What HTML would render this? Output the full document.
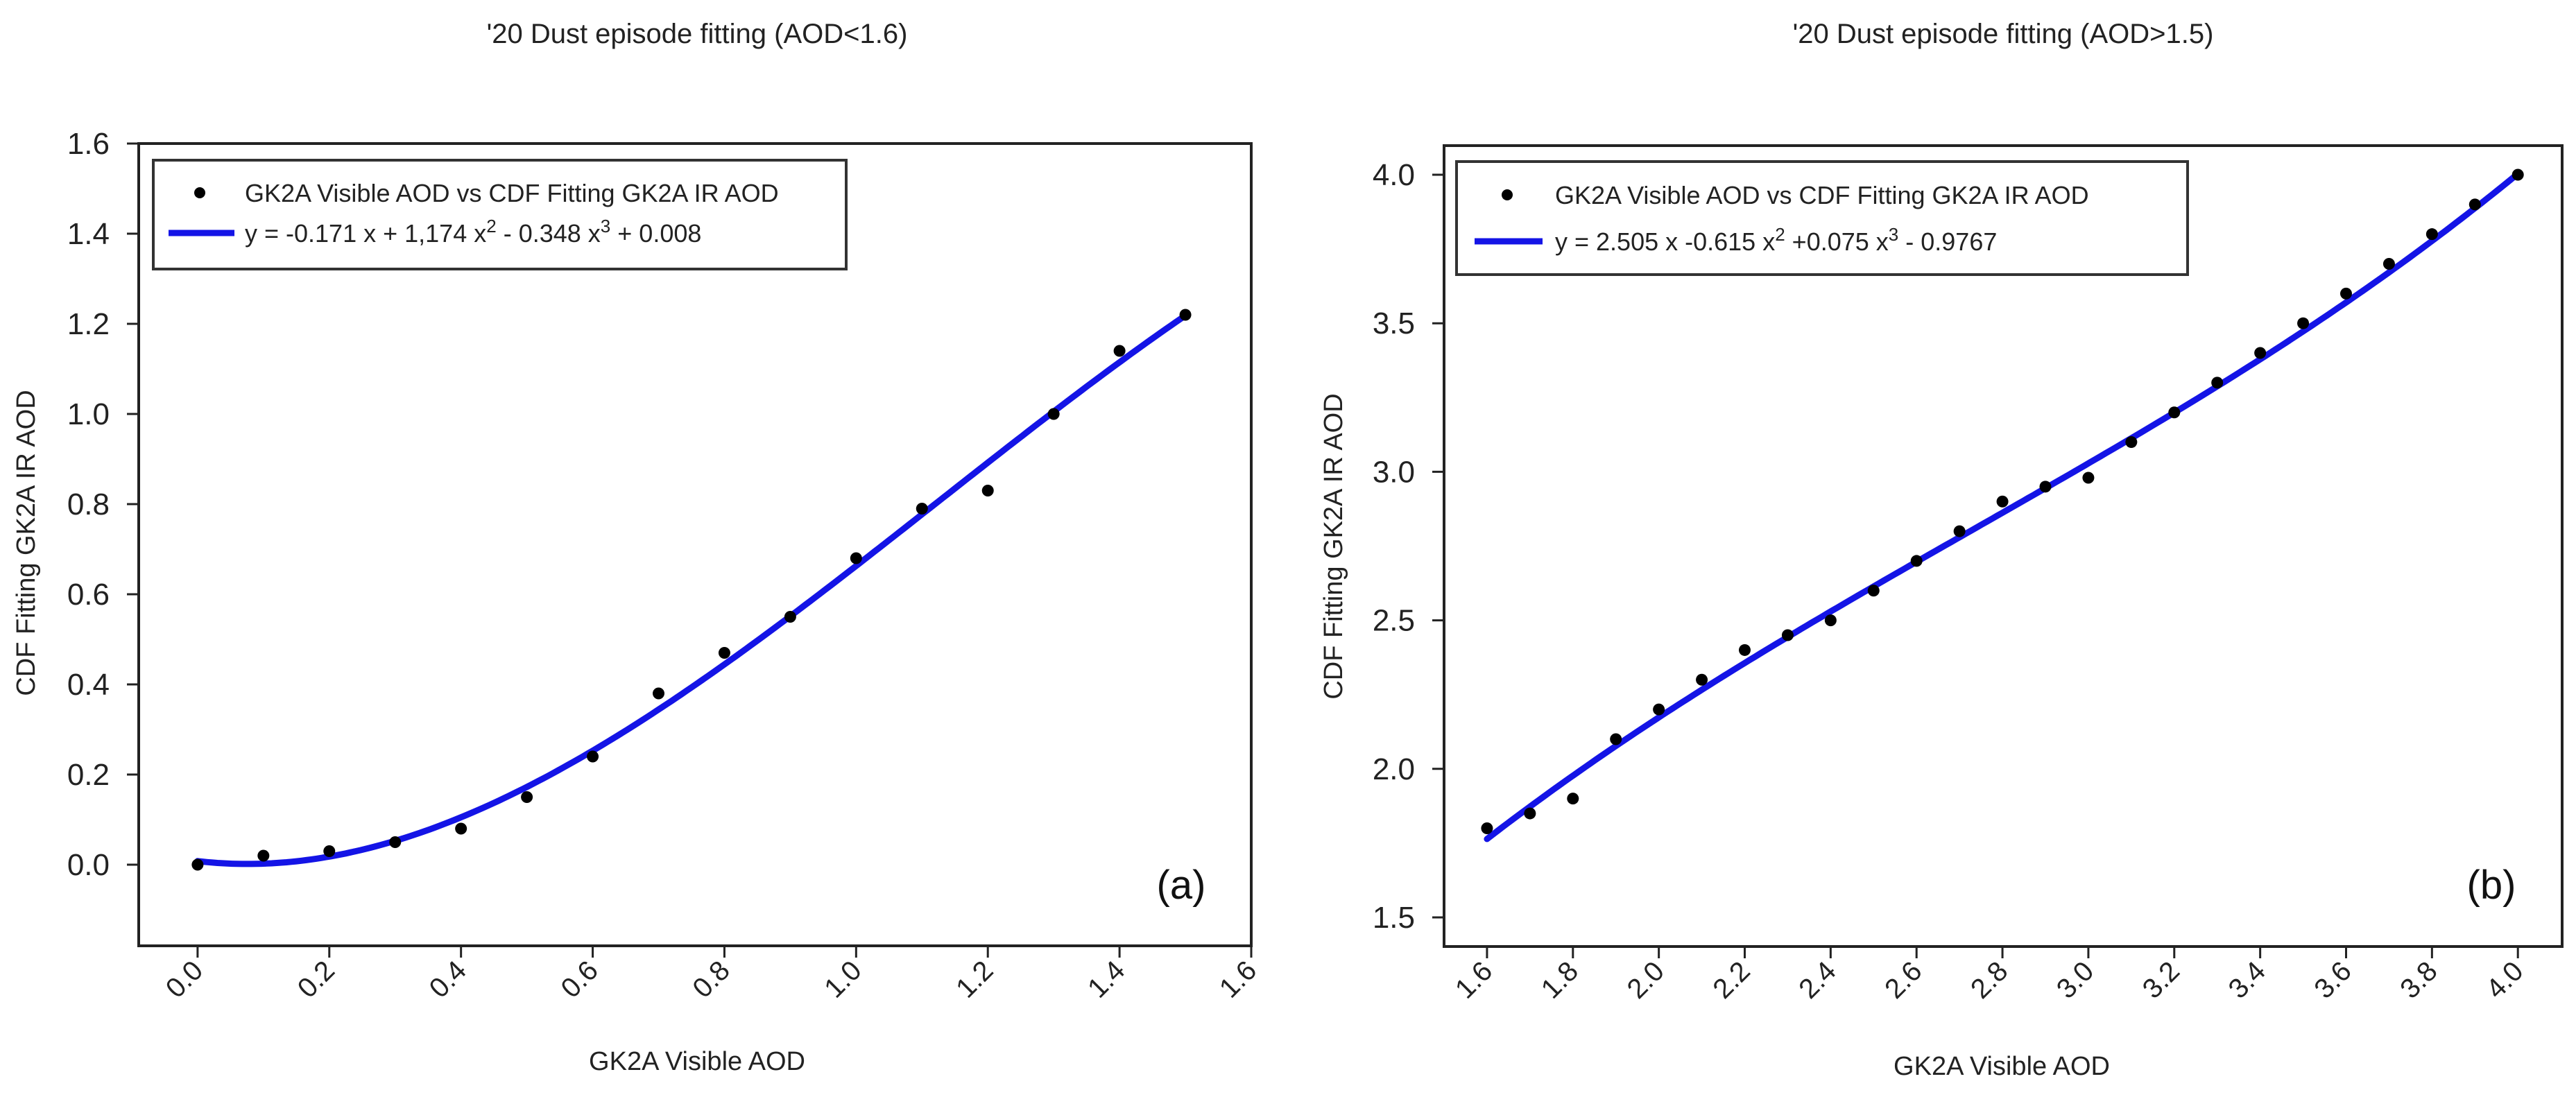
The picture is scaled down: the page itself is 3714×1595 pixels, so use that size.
<!DOCTYPE html>
<html><head><meta charset="utf-8"><style>
html,body{margin:0;padding:0;background:#fff;}
svg{display:block;font-family:"Liberation Sans",Arial,sans-serif;}
</style></head><body>
<svg id="c" width="3714" height="1595" viewBox="0 0 3714 1595"></svg>
<script>
// Panel (a) data
const xsA = [0,0.1,0.2,0.3,0.4,0.5,0.6,0.7,0.8,0.9,1.0,1.1,1.2,1.3,1.4,1.5];
const ysA = [0,0.02,0.03,0.05,0.08,0.15,0.24,0.38,0.47,0.55,0.68,0.79,0.83,1.0,1.14,1.22];
const coefA = [0.008,-0.171,1.174,-0.348];
const xTicksA = ["0.0","0.2","0.4","0.6","0.8","1.0","1.2","1.4","1.6"];
const yTicksA = ["0.0","0.2","0.4","0.6","0.8","1.0","1.2","1.4","1.6"];
// Panel (b) data
const xsB = [1.6,1.7,1.8,1.9,2.0,2.1,2.2,2.3,2.4,2.5,2.6,2.7,2.8,2.9,3.0,3.1,3.2,3.3,3.4,3.5,3.6,3.7,3.8,3.9,4.0];
const ysB = [1.8,1.85,1.9,2.1,2.2,2.3,2.4,2.45,2.5,2.6,2.7,2.8,2.9,2.95,2.98,3.1,3.2,3.3,3.4,3.5,3.6,3.7,3.8,3.9,4.0];
const coefB = [-0.9767,2.505,-0.615,0.075];
const xTicksB = ["1.6","1.8","2.0","2.2","2.4","2.6","2.8","3.0","3.2","3.4","3.6","3.8","4.0"];
const yTicksB = ["1.5","2.0","2.5","3.0","3.5","4.0"];

const NS="http://www.w3.org/2000/svg";
const svg=document.getElementById('c');
function mk(tag,attrs,parent,text){const e=document.createElementNS(NS,tag);for(const k in attrs)e.setAttribute(k,attrs[k]);if(text!==undefined)e.textContent=text;(parent||svg).appendChild(e);return e;}

function panel(o){
  const g=mk('g',{});
  
  
  const sx=v=>o.L+(v-o.x0)/(o.x1-o.x0)*(o.R-o.L);
  const sy=v=>o.B-(v-o.y0)/(o.y1-o.y0)*(o.B-o.T);
  const t=mk('text',{x:o.titleX,y:62,'font-size':40,'text-anchor':'middle',fill:'#222'},g,o.title);
  
  
  const fr=mk('rect',{x:o.L,y:o.T,width:o.R-o.L,height:o.B-o.T,fill:'none',stroke:'#222','stroke-width':4},g);
  
  
  o.yt.forEach(s=>{const v=parseFloat(s),y=sy(v);
    mk('line',{x1:o.L-17,x2:o.L,y1:y,y2:y,stroke:'#222','stroke-width':3},g);
    const l=mk('text',{x:o.L-42,y:y+15,'font-size':44,'text-anchor':'end',fill:'#222'},g,s);
    
    
  });
  o.xt.forEach(s=>{const v=parseFloat(s),x=sx(v);
    mk('line',{x1:x,x2:x,y1:o.B,y2:o.B+17,stroke:'#222','stroke-width':3},g);
    const l=mk('text',{x:x+10,y:o.B+38,'font-size':40,'text-anchor':'end',fill:'#222',transform:`rotate(-45 ${x+10} ${o.B+38})`},g,s);
    
    
  });
  const xl=mk('text',{x:o.xlX,y:o.xlY,'font-size':38,'text-anchor':'middle',fill:'#222'},g,'GK2A Visible AOD');
  
  
  const yl=mk('text',{x:o.ylX,y:o.ylY,'font-size':38,'text-anchor':'middle',fill:'#222',transform:`rotate(-90 ${o.ylX} ${o.ylY})`},g,'CDF Fitting GK2A IR AOD');
  
  
  // fit curve
  let d='';const a=o.xs[0],b=o.xs[o.xs.length-1];
  for(let i=0;i<=200;i++){const x=a+(b-a)*i/200;const c=o.coef;const y=c[0]+c[1]*x+c[2]*x*x+c[3]*x*x*x;d+=(i?'L':'M')+sx(x).toFixed(1)+' '+sy(y).toFixed(1);}
  const fit=mk('path',{d:d,fill:'none',stroke:'#1414e6','stroke-width':9,'stroke-linecap':'round'},g);
  
  
  o.xs.forEach((x,i)=>{const p=mk('circle',{cx:sx(x),cy:sy(o.ys[i]),r:8.5,fill:'#000'},g);
    
    });
  // legend
  const lg=mk('g',{},g);
  
  
  mk('rect',{x:o.lg[0],y:o.lg[1],width:o.lg[2],height:o.lg[3],fill:'#fff',stroke:'#333','stroke-width':4},lg);
  mk('circle',{cx:o.dotX,cy:o.r1,r:8,fill:'#000'},lg);
  const e1=mk('text',{x:o.txtX,y:o.r1+13,'font-size':36,fill:'#222'},lg,'GK2A Visible AOD vs CDF Fitting GK2A IR AOD');
  
  
  mk('line',{x1:o.ln[0],x2:o.ln[1],y1:o.r2,y2:o.r2,stroke:'#1414e6','stroke-width':9},lg);
  const e2=mk('text',{x:o.txtX,y:o.r2+13,'font-size':36,fill:'#222'},lg);
  
  
  o.eq.forEach(p=>{const ts=mk('tspan',p.sup?{'font-size':26,dy:-14}:{'font-size':36,dy:p.back?14:0},e2,p.t);});
  const pl=mk('text',{x:o.plX,y:1296,'font-size':58,'text-anchor':'middle',fill:'#111'},g,o.pl);
  
  
}
panel({name:'panel-a',title:"'20 Dust episode fitting (AOD<1.6)",titleX:1005,L:200,R:1804,T:207,B:1364,x0:-0.0894,x1:1.6,y0:-0.18,y1:1.6,
  xt:xTicksA,yt:yTicksA,xs:xsA,ys:ysA,coef:coefA,xlX:1005,xlY:1543,ylX:50,ylY:783,
  lg:[221,231,999,157],dotX:288,r1:278,r2:336,ln:[243,338],txtX:353,plX:1703,pl:'(a)',
  eq:[{t:'y = -0.171 x + 1,174 x'},{t:'2',sup:1},{t:' - 0.348 x',back:1},{t:'3',sup:1},{t:' + 0.008',back:1}]});
panel({name:'panel-b',title:"'20 Dust episode fitting (AOD>1.5)",titleX:2888,L:2082,R:3694,T:210,B:1365,x0:1.5,x1:4.103,y0:1.402,y1:4.098,
  xt:xTicksB,yt:yTicksB,xs:xsB,ys:ysB,coef:coefB,xlX:2886,xlY:1550,ylX:1935,ylY:788,
  lg:[2100,233,1054,163],dotX:2173,r1:281,r2:348,ln:[2126,2224],txtX:2242,plX:3592,pl:'(b)',
  eq:[{t:'y = 2.505 x -0.615 x'},{t:'2',sup:1},{t:' +0.075 x',back:1},{t:'3',sup:1},{t:' - 0.9767',back:1}]});
</script>
</body></html>
